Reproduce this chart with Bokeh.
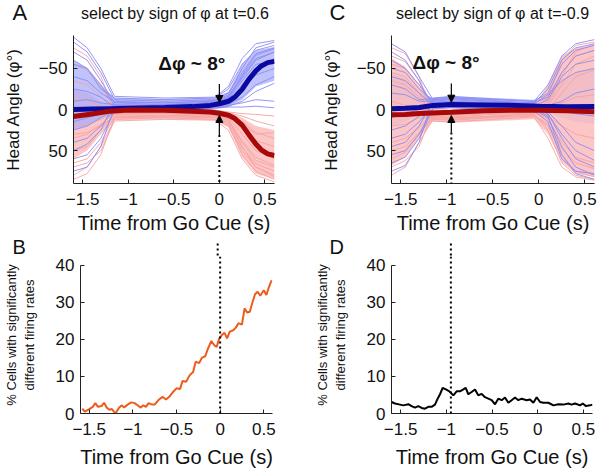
from bokeh.plotting import figure
from bokeh.layouts import column, row
from bokeh.models import Range1d, Label, Arrow, NormalHead
from bokeh.embed import file_html
from bokeh.resources import INLINE

FONT = "Liberation Sans"

# ---------------- tick labels ----------------
x_ticks = [-1.5, -1, -0.5, 0, 0.5]
x_tick_labels = {-1.5: "−1.5", -1: "−1", -0.5: "−0.5", 0: "0", 0.5: "0.5"}
angle_ticks = [-50, 0, 50]
angle_tick_labels = {-50: "−50", 0: "0", 50: "50"}
pct_ticks = [0, 10, 20, 30, 40]

# ---------------- panel A: head-angle trajectories (select at t=0.6) ----------------
tA = [-1.6, -1.45, -1.3, -1.15, -0.6, -0.05, 0.1, 0.25, 0.4, 0.605]
a_blue_lines = [
    [-82, -70, -45, -12, -10, -12, -20, -45, -68, -75],
    [-70, -60, -35, -8, -6, -9, -15, -38, -60, -70],
    [-55, -50, -30, -5, -4, -6, -10, -30, -50, -62],
    [-40, -35, -20, -10, -8, -10, -18, -50, -75, -82],
    [-25, -22, -15, -3, -2, -5, -8, -25, -42, -50],
    [-10, -12, -8, -6, -5, -7, -12, -35, -55, -58],
    [15, 10, 5, -2, -3, -4, -6, -15, -30, -40],
    [40, 35, 20, 0, -1, -3, -5, -8, -12, -10],
    [60, 55, 35, 2, 0, -2, -3, -3, -4, -2],
    [75, 70, 45, -4, -6, -8, -14, -40, -62, -70],
    [-60, -50, -25, -14, -12, -14, -25, -55, -72, -78],
    [25, 20, 10, 1, -1, -2, -4, -10, -22, -32],
    [-88, -75, -50, -16, -14, -15, -28, -62, -80, -84],
    [50, 42, 25, -9, -8, -11, -16, -42, -66, -74],
]
a_pink_lines = [
    [80, 70, 45, 12, 10, 12, 20, 50, 70, 80],
    [65, 60, 40, 8, 7, 8, 14, 38, 58, 68],
    [50, 45, 25, 5, 4, 5, 10, 30, 50, 60],
    [35, 30, 18, 10, 9, 10, 18, 55, 75, 85],
    [20, 18, 12, 3, 2, 4, 8, 22, 38, 45],
    [5, 8, 6, 6, 5, 6, 12, 40, 62, 70],
    [-15, -10, -4, 2, 2, 3, 5, 15, 28, 35],
    [-35, -30, -15, 0, 1, 2, 4, 8, 14, 20],
    [-55, -48, -28, -2, 0, 1, 3, 5, 6, 8],
    [-75, -65, -40, 4, 5, 7, 12, 45, 70, 82],
    [70, 65, 50, 14, 12, 13, 25, 60, 80, 88],
    [30, 28, 20, 1, 2, 3, 6, 18, 30, 28],
    [85, 78, 55, 9, 8, 9, 16, 46, 66, 75],
]
a_blue_core_hi = [-60, -50, -30, -14, -13, -14, -22, -55, -72, -76]
a_blue_core_lo = [25, 20, 10, 2, 2, 0, -3, -12, -28, -35]
a_pink_core_hi = [-25, -20, -10, -2, -1, 0, 3, 10, 20, 25]
a_pink_core_lo = [60, 50, 30, 13, 12, 13, 22, 58, 78, 85]

tA_mean = [-1.6, -1.4, -1.2, -1.0, -0.6, -0.3, -0.1, 0.0, 0.1, 0.17, 0.25, 0.32, 0.4, 0.46, 0.53, 0.605]
a_blue_mean = [0, -0.5, -1, -1.5, -2.5, -3.5, -5, -7, -10, -15, -24.5, -36, -47, -53, -57, -58.5]
a_red_mean = [8.5, 5.5, 2, 0.5, 1, 2, 3, 4.5, 7, 11, 19, 30, 42, 49, 54, 56]

# ---------------- panel C: head-angle trajectories (select at t=-0.9) ----------------
tC = [-1.6, -1.45, -1.3, -1.15, -0.95, -0.5, -0.05, 0.1, 0.25, 0.4, 0.605]
c_blue_lines = [
    [-80, -70, -40, -12, -14, -12, -10, -20, -55, -72, -78],
    [-60, -50, -30, -8, -10, -8, -6, -5, -10, -20, -25],
    [-40, -35, -20, -5, -6, -4, -3, 5, 35, 60, 70],
    [-20, -18, -10, -10, -12, -9, -8, -25, -60, -75, -80],
    [10, 5, 0, -3, -4, -2, 0, 10, 45, 70, 80],
    [35, 30, 15, -6, -8, -6, -4, -12, -40, -55, -60],
    [55, 50, 30, -2, -3, -1, 1, 3, 20, 40, 50],
    [75, 68, 40, -14, -16, -13, -10, -30, -65, -80, -85],
    [-70, -60, -35, -4, -5, -3, -1, 8, 55, 78, 85],
    [45, 40, 20, -9, -10, -7, -5, -2, 2, 5, 8],
    [-50, -45, -25, -11, -13, -10, -8, -15, -45, -65, -72],
    [65, 58, 35, -1, -2, 0, 2, 15, 60, 75, 78],
    [25, 20, 8, -7, -9, -6, -3, 6, 30, 50, 62],
    [-30, -25, -12, -13, -15, -11, -7, -18, -35, -45, -50],
]
c_pink_lines = [
    [80, 70, 40, 12, 13, 10, 8, 20, 55, 75, 82],
    [60, 52, 30, 8, 9, 6, 4, 0, -20, -40, -48],
    [40, 35, 22, 4, 5, 3, 2, -10, -45, -65, -72],
    [20, 18, 10, 10, 11, 8, 6, 25, 65, 80, 85],
    [-10, -5, 0, 2, 3, 1, 0, -5, -30, -55, -65],
    [-35, -30, -15, 6, 7, 5, 3, 12, 40, 58, 65],
    [-55, -50, -30, 1, 2, 1, 0, -3, -8, -15, -18],
    [-75, -68, -40, 14, 15, 12, 9, 35, 70, 82, 86],
    [70, 62, 45, 3, 4, 2, 1, -15, -60, -78, -82],
    [-45, -40, -20, 9, 10, 8, 5, 8, 20, 30, 35],
    [50, 45, 28, 11, 12, 9, 7, 18, 48, 65, 72],
    [-65, -58, -35, 5, 6, 4, 2, -6, -40, -70, -80],
]
c_blue_core_hi = [-45, -38, -22, -14, -16, -14, -12, -18, -35, -45, -50]
c_blue_core_lo = [20, 15, 5, 0, -2, 0, 0, 5, 10, 15, 18]
c_pink_core_hi = [-62, -52, -28, -2, 0, -3, -5, -30, -65, -75, -78]
c_pink_core_lo = [68, 58, 35, 15, 16, 14, 12, 30, 64, 78, 82]

tC_mean = [-1.6, -1.45, -1.3, -1.15, -0.95, -0.6, -0.25, 0.0, 0.3, 0.605]
c_blue_mean = [-1, -1.5, -2.5, -5, -6, -5.6, -5, -4, -3.4, -3.5]
c_red_mean = [6.5, 6, 5, 4.2, 3.4, 1.5, 0.8, 0.8, 1.5, 2.8]

# ---------------- panel B: % cells (orange) ----------------
tB = [-1.58, -1.55, -1.50, -1.46, -1.43, -1.40, -1.36, -1.33, -1.30, -1.27, -1.24, -1.20,
      -1.16, -1.13, -1.10, -1.06, -1.02, -0.98, -0.95, -0.91, -0.88, -0.85, -0.82, -0.78,
      -0.75, -0.70, -0.66, -0.62, -0.58, -0.54, -0.50, -0.46, -0.43, -0.39, -0.35, -0.31,
      -0.28, -0.24, -0.21, -0.17, -0.14, -0.10, -0.07, -0.04, -0.01, 0.02, 0.05, 0.08,
      0.11, 0.15, 0.18, 0.21, 0.25, 0.28, 0.31, 0.34, 0.37, 0.40, 0.43, 0.46, 0.50,
      0.53, 0.56, 0.59]
pctB = [1.3, 0.5, 1.2, 1.8, 2.8, 1.8, 2.0, 2.9, 1.6, 1.0, 1.2, 0.0,
        1.5, 2.2, 1.6, 2.4, 3.0, 2.8, 2.3, 1.6, 2.2, 1.8, 2.8, 2.4,
        2.4, 3.8, 4.5, 3.8, 4.6, 5.8, 6.8, 6.6, 8.8, 8.6, 10.3, 11.2,
        14.0, 13.6, 15.0, 15.5, 17.5, 19.6, 18.5, 18.0, 20.3, 21.2, 21.8, 20.3,
        22.1, 22.5, 23.2, 24.4, 24.0, 28.4, 27.3, 27.5, 30.0, 32.2, 32.9, 31.8, 33.3,
        32.0, 34.2, 36.0]

# ---------------- panel D: % cells (black) ----------------
tD = [-1.6, -1.562, -1.507, -1.471, -1.416, -1.380, -1.343, -1.307, -1.270, -1.234,
      -1.197, -1.161, -1.124, -1.095, -1.069, -1.040, -1.004, -0.967, -0.923, -0.887,
      -0.850, -0.814, -0.788, -0.759, -0.723, -0.686, -0.650, -0.613, -0.577, -0.540,
      -0.504, -0.467, -0.431, -0.394, -0.358, -0.321, -0.285, -0.248, -0.212, -0.175,
      -0.120, -0.084, -0.047, -0.011, 0.026, 0.062, 0.117, 0.172, 0.226, 0.281, 0.336,
      0.372, 0.409, 0.464, 0.493, 0.529, 0.573, 0.600]
pctD = [3.1, 2.7, 2.4, 2.2, 2.5, 2.0, 1.6, 2.0, 1.5, 1.3,
        1.8, 1.8, 2.4, 4.0, 5.2, 6.9, 6.5, 6.0, 4.9, 6.0,
        6.0, 6.5, 6.9, 5.2, 5.8, 6.5, 4.9, 5.3, 4.4, 4.0,
        3.6, 2.5, 4.0, 3.6, 4.3, 2.9, 3.6, 4.3, 3.6, 4.0,
        3.6, 3.8, 2.9, 4.4, 3.1, 2.9, 2.9, 2.2, 2.5, 2.4, 2.7,
        2.4, 2.7, 2.2, 2.7, 2.0, 2.2, 2.4]

# ---------------- marker positions / texts ----------------
select_t_A = 0.0
select_t_C = -0.95
title_A = "select by sign of φ at t=0.6"
title_C = "select by sign of φ at t=-0.9"
delta_text = "Δφ ~ 8°"

BLUE_THIN = "#8c8cf2"
PINK_THIN = "#f5a3a3"
BLUE_CORE = "#a9aefa"
PINK_CORE = "#fbbcbc"
BLUE_MEAN = "#0a0aa0"
RED_MEAN = "#a80808"
ORANGE = "#ef5b1c"
INK = "#111111"

X_RANGE_TOP = (-1.6, 0.605)
X_RANGE_BOT = (-1.6, 0.6)


def base_fig(width, height, left, right, top, bottom, xr, yr, axes=True):
    kw = {} if axes else {"x_axis_location": None, "y_axis_location": None}
    p = figure(width=width, height=height, x_range=Range1d(*xr), y_range=Range1d(*yr),
               output_backend="svg", toolbar_location=None, title=None,
               min_border_left=left, min_border_right=right,
               min_border_top=top, min_border_bottom=bottom, **kw)
    p.outline_line_color = None
    p.grid.visible = False
    return p


def make_fig(width, height, left, right, top, bottom, xr, yr):
    p = base_fig(width, height, left, right, top, bottom, xr, yr)
    for ax in (p.xaxis[0], p.yaxis[0]):
        ax.axis_line_color = "#222222"
        ax.major_tick_line_color = "#222222"
        ax.major_tick_in = 4
        ax.major_tick_out = 0
        ax.minor_tick_line_color = None
        ax.major_label_text_font = FONT
        ax.major_label_text_font_size = "17px"
        ax.major_label_text_color = INK
        ax.axis_label_text_font = FONT
        ax.axis_label_text_font_style = "normal"
        ax.axis_label_text_color = INK
        ax.major_label_standoff = 6
    p.xaxis.ticker = x_ticks
    p.xaxis.major_label_overrides = x_tick_labels
    p.xaxis.major_label_standoff = 9
    p.xaxis.axis_label = "Time from Go Cue (s)"
    p.xaxis.axis_label_text_font_size = "20px"
    p.xaxis.axis_label_standoff = 4
    return p


def header(width, height, left, frame_w, xr):
    # strip above a panel, sharing the panel's x scale
    scale = frame_w / (xr[1] - xr[0])
    x0 = xr[0] - left / scale
    h = base_fig(width, height, 0, 0, 0, 0, (x0, x0 + width / scale), (height, 0), axes=False)
    h.min_border = 0
    return h, (lambda px: x0 + px / scale)


def angle_panel(width, height, left, right, top, bottom, t, blue_lines, pink_lines,
                bcore, pcore, tm, bmean, rmean, sel_t, arrows, delta_xy, core_order):
    p = make_fig(width, height, left, right, top, bottom, X_RANGE_TOP, (90, -90))
    p.yaxis.ticker = angle_ticks
    p.yaxis.major_label_overrides = angle_tick_labels
    p.yaxis.axis_label = "Head Angle (φ°)"
    p.yaxis.axis_label_text_font_size = "17px"
    p.yaxis.axis_label_standoff = 13
    cores = {"pink": (pcore, PINK_CORE, 0.85), "blue": (bcore, BLUE_CORE, 0.75)}
    for key in core_order:
        (hi, lo), col, alpha = cores[key]
        p.varea(x=t, y1=hi, y2=lo, fill_color=col, fill_alpha=alpha)
    p.multi_line(xs=[t] * len(pink_lines), ys=pink_lines, line_color=PINK_THIN, line_width=1, line_alpha=0.9)
    p.multi_line(xs=[t] * len(blue_lines), ys=blue_lines, line_color=BLUE_THIN, line_width=1, line_alpha=0.9)
    p.line(tm, bmean, line_color=BLUE_MEAN, line_width=5)
    p.line(tm, rmean, line_color=RED_MEAN, line_width=5)
    d0, d1, u0, u1 = arrows
    p.add_layout(Arrow(end=NormalHead(size=7, fill_color="black", line_color="black"),
                       x_start=sel_t, y_start=d0, x_end=sel_t, y_end=d1,
                       line_color="black", line_width=1.2))
    p.add_layout(Arrow(end=NormalHead(size=7, fill_color="black", line_color="black"),
                       x_start=sel_t, y_start=u0, x_end=sel_t, y_end=u1,
                       line_color="black", line_width=1.2))
    p.add_layout(Arrow(end=None, x_start=sel_t, y_start=u0, x_end=sel_t, y_end=120,
                       line_color="black", line_width=2, line_dash="2 3"))
    p.add_layout(Label(x=delta_xy[0], y=delta_xy[1], text=delta_text, text_font=FONT,
                       text_font_size="19px", text_font_style="bold", text_align="left",
                       text_baseline="middle", text_color=INK))
    return p


def pct_panel(width, height, left, right, top, bottom, t, vals, color, sel_t, y_top):
    # frame reaches a little above 40 so the dotted marker continues upward;
    # the axis line itself stops at 40
    p = make_fig(width, height, left, right, top, bottom, X_RANGE_BOT, (0, y_top))
    p.yaxis.ticker = pct_ticks
    p.yaxis.bounds = (0, 40)
    p.yaxis.axis_label = "% Cells with significantly\ndifferent firing rates"
    p.yaxis.axis_label_text_font_size = "13px"
    p.yaxis.axis_label_standoff = 16
    p.xaxis.axis_label_standoff = 8
    p.line(t, vals, line_color=color, line_width=2)
    p.add_layout(Arrow(end=None, x_start=sel_t, y_start=y_top, x_end=sel_t, y_end=0,
                       line_color="black", line_width=2, line_dash="2 3"))
    return p


def add_text(h, x, y, text, size):
    h.add_layout(Label(x=x, y=y, text=text, text_font=FONT, text_font_size=size,
                       text_align="left" if len(text) == 1 else "center",
                       text_baseline="middle", text_color=INK))


# ---- row 1: headers for A and C ----
hA, fxA = header(300, 24, 71, 203, X_RANGE_TOP)
add_text(hA, fxA(12), 11.5, "A", "22px")
add_text(hA, fxA(174.5), 13, title_A, "16px")
hC, fxC = header(300, 24, 91, 203, X_RANGE_TOP)
add_text(hC, fxC(29), 11.5, "C", "22px")
add_text(hC, fxC(192), 13, title_C, "16px")

# ---- row 2: head-angle panels ----
pA = angle_panel(300, 212, 71, 26, 9, 51, tA, a_blue_lines, a_pink_lines,
                 (a_blue_core_hi, a_blue_core_lo), (a_pink_core_hi, a_pink_core_lo),
                 tA_mean, a_blue_mean, a_red_mean, select_t_A,
                 (-31, -8.6, 31, 7.2), (-0.67, -55.6), ("pink", "blue"))
pC = angle_panel(300, 212, 91, 6, 11, 53, tC, c_blue_lines, c_pink_lines,
                 (c_blue_core_hi, c_blue_core_lo), (c_pink_core_hi, c_pink_core_lo),
                 tC_mean, c_blue_mean, c_red_mean, select_t_C,
                 (-31.6, -8.9, 28, 7.3), (-1.372, -57), ("blue", "pink"))

# ---- row 3: headers for B and D (letters + dotted marker continuation) ----
hB, fxB = header(300, 20, 71, 201, X_RANGE_BOT)
add_text(hB, fxB(12), 10, "B", "20px")
hB.line([select_t_A, select_t_A], [7, 20], line_color="black", line_width=2, line_dash="2 3")
hD, fxD = header(300, 20, 91, 201, X_RANGE_BOT)
add_text(hD, fxD(29), 10, "D", "20px")
hD.line([select_t_C, select_t_C], [7, 20], line_color="black", line_width=2, line_dash="2 3")

# ---- row 4: percentage panels (frame 256..414 / 256..415) ----
pB = pct_panel(300, 214, 71, 28, 0, 56, tB, pctB, ORANGE, select_t_A, 40 * 158 / 149)
pD = pct_panel(300, 214, 91, 8, 0, 55, tD, pctD, "black", select_t_C, 40 * 159 / 150)

layout = column(row(hA, hC), row(pA, pC), row(hB, hD), row(pB, pD))
open("out.html", "w").write(file_html(layout, INLINE))
